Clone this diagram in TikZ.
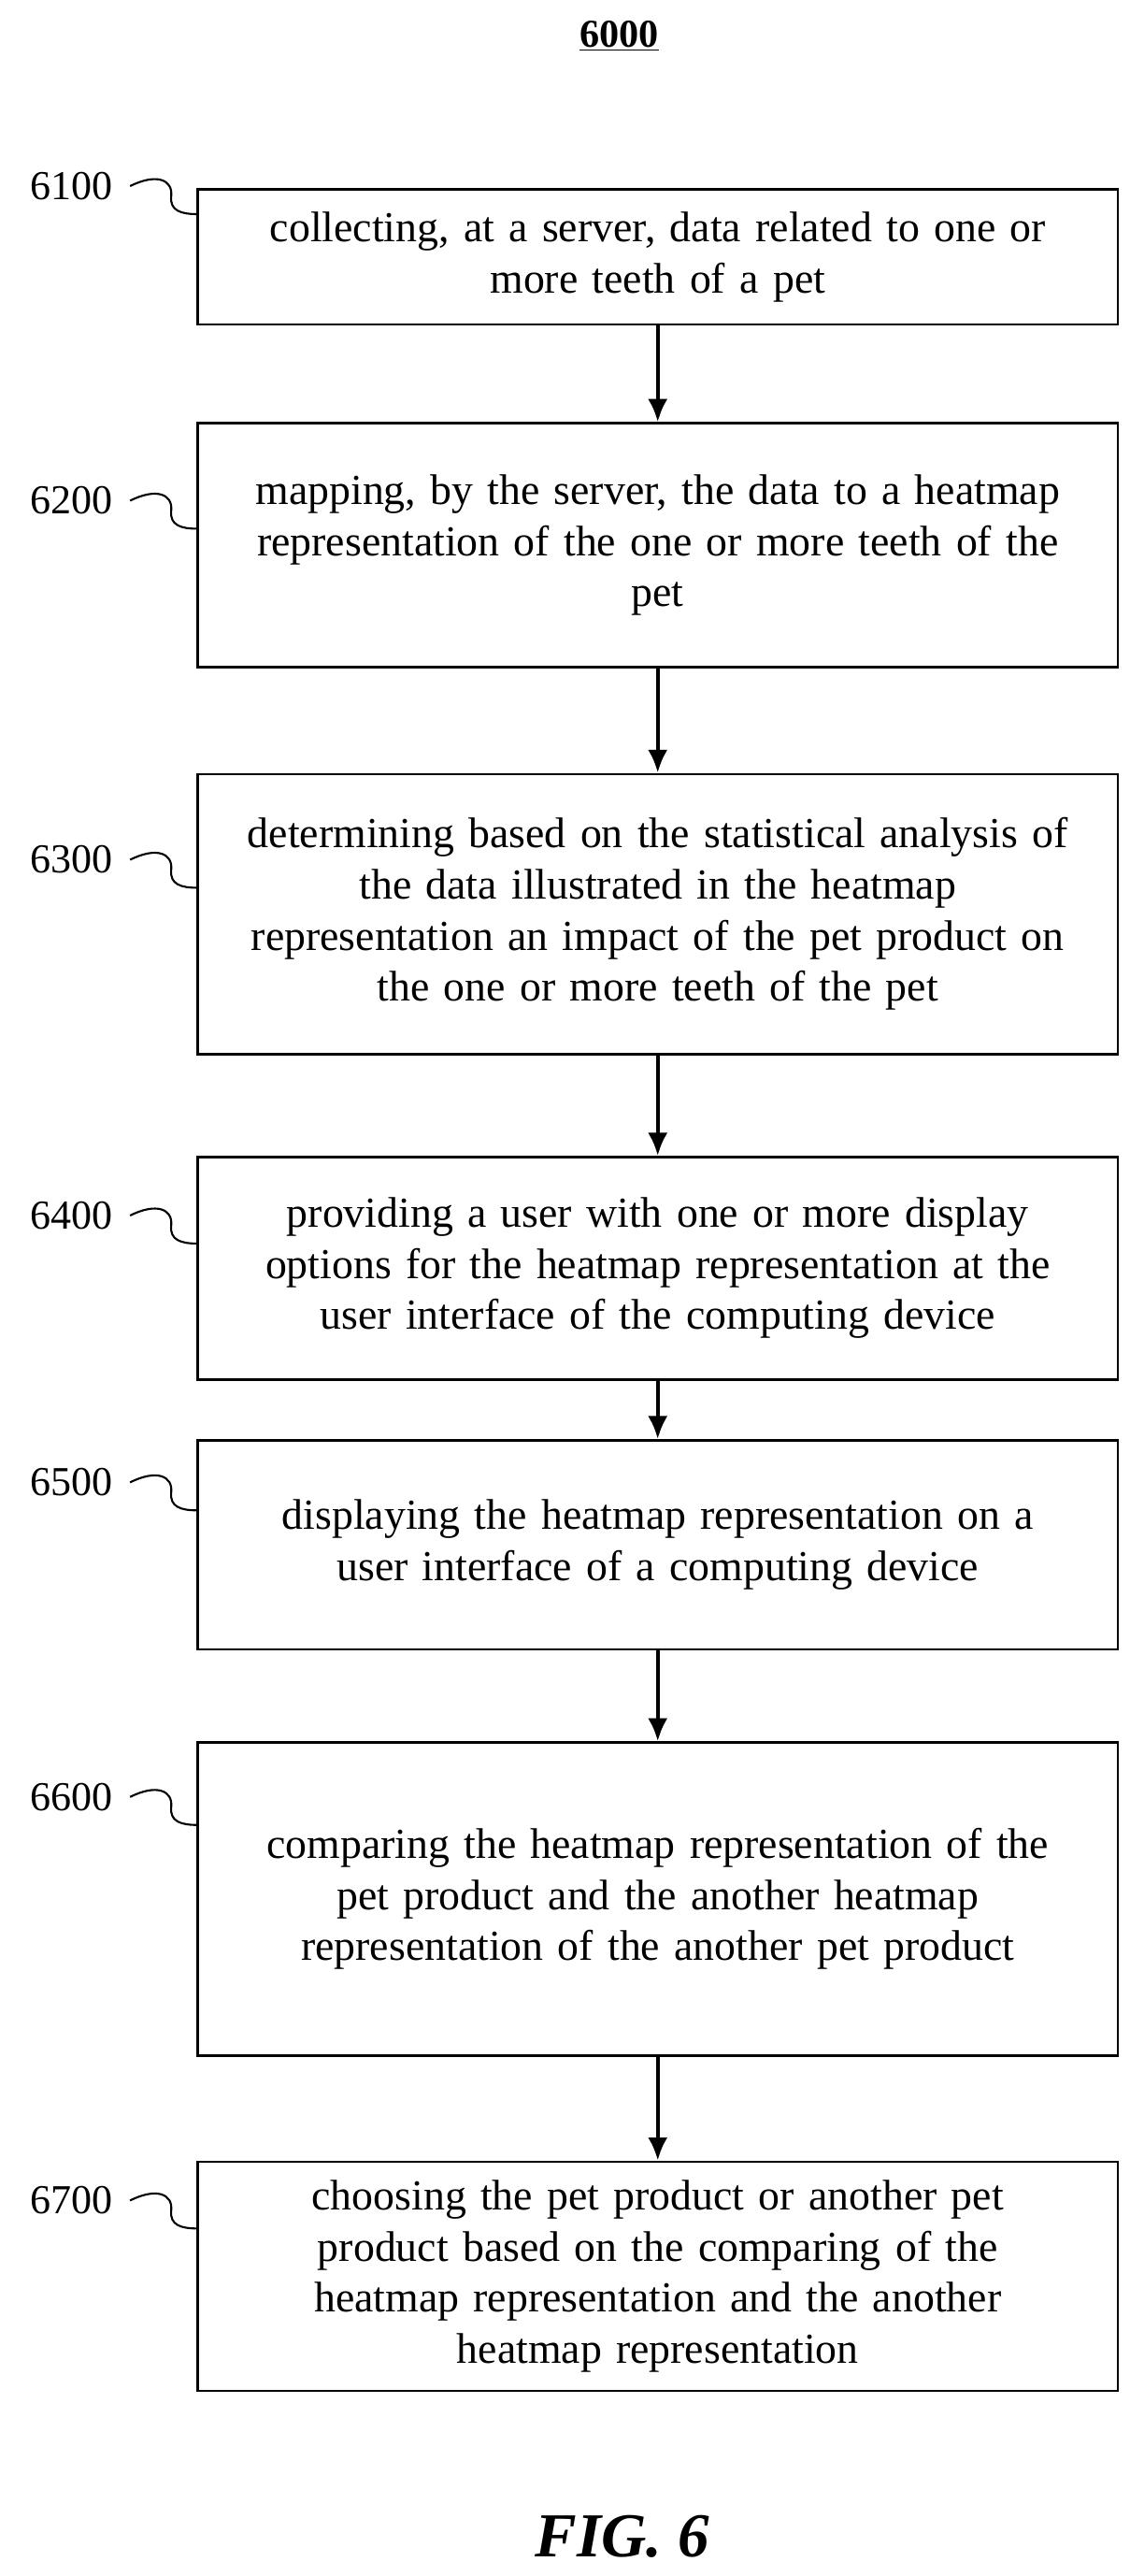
\documentclass[tikz,border=0pt]{standalone}
\usepackage{fontspec}
\setmainfont{Liberation Serif}
\usetikzlibrary{positioning,arrows.meta}
\begin{document}
\begin{tikzpicture}[x=1pt,y=-1pt,
  stepbox/.style={draw,line width=1.5pt,minimum width=559pt,text width=550pt,align=center,
    font=\fontsize{26}{31}\selectfont},
  steplbl/.style={font=\fontsize{25}{28}\selectfont,anchor=east},
  flow/.style={-{Latex[length=14pt,width=12pt]},line width=2.5pt}]
\useasboundingbox (0,0) rectangle (686,1564);

\node[font=\bfseries\fontsize{24}{28}\selectfont] (title) at (376,22) {\underline{6000}};

\node[stepbox,minimum height=82pt]  (s1) at (399.5,156)  {collecting, at a server, data related to one or\\ more teeth of a pet};
\node[stepbox,minimum height=148pt] (s2) at (399.5,331)  {mapping, by the server, the data to a heatmap\\ representation of the one or more teeth of the\\ pet};
\node[stepbox,minimum height=170pt] (s3) at (399.5,555)  {determining based on the statistical analysis of\\ the data illustrated in the heatmap\\ representation an impact of the pet product on\\ the one or more teeth of the pet};
\node[stepbox,minimum height=135pt] (s4) at (399.5,770)  {providing a user with one or more display\\ options for the heatmap representation at the\\ user interface of the computing device};
\node[stepbox,minimum height=127pt] (s5) at (399.5,938)  {displaying the heatmap representation on a\\ user interface of a computing device};
\node[stepbox,minimum height=190pt] (s6) at (399.5,1153) {comparing the heatmap representation of the\\ pet product and the another heatmap\\ representation of the another pet product};
\node[stepbox,minimum height=139pt] (s7) at (399.5,1382) {choosing the pet product or another pet\\ product based on the comparing of the\\ heatmap representation and the another\\ heatmap representation};

% step numbers with squiggle leaders
\foreach \s/\n/\y in {s1/6100/113,s2/6200/304,s3/6300/522,s4/6400/738,s5/6500/900,s6/6600/1091,s7/6700/1336}{
  \node[steplbl] (l\n) at (72,\y) {\n};
  \draw[line width=1.2pt] (79,\y) .. controls (95,\y-8) and (105,\y-4) .. (104,\y+6)
     .. controls (103,\y+15) and (110,\y+17) .. (120,\y+17);
}

\foreach \a/\b in {s1/s2,s2/s3,s3/s4,s4/s5,s5/s6,s6/s7}
  \draw[flow] (\a) -- (\b);

\node[font=\bfseries\itshape\fontsize{38}{44}\selectfont] (fig) at (378,1540) {FIG. 6};
\end{tikzpicture}
\end{document}
